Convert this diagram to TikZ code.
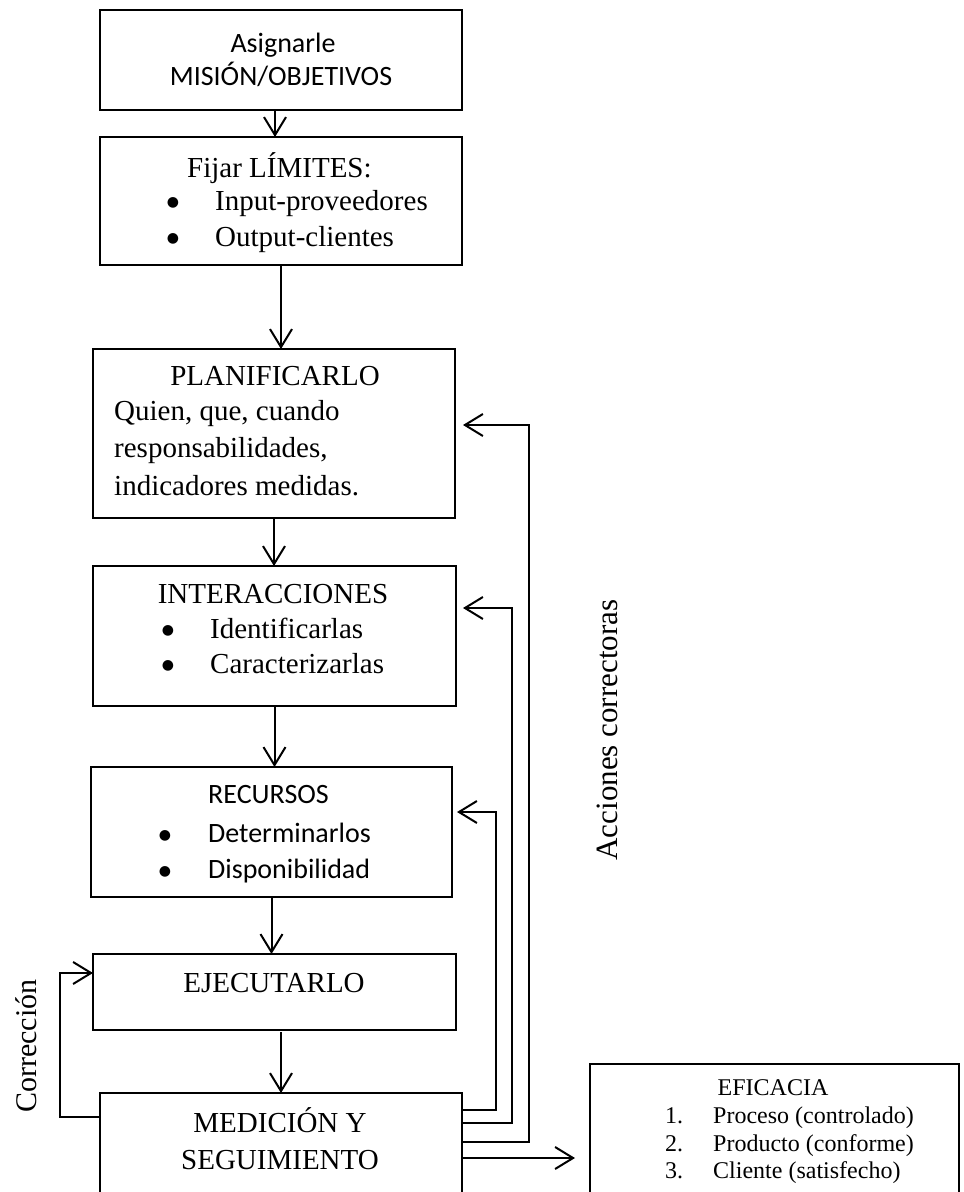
\documentclass[tikz,border=0pt]{standalone}
\usepackage{fontspec}
\setmainfont{Liberation Serif}
\newfontfamily\calibri{Carlito}
\newfontfamily\dejavu{DejaVu Sans}
\usetikzlibrary{arrows.meta}
\begin{document}
\begin{tikzpicture}[x=1pt,y=-1pt,
  box/.style={draw=black, line width=1.3pt, inner sep=0pt, outer sep=0pt, rectangle},
  conn/.style={line width=2pt, -{Straight Barb[length=18pt,width=22pt]}},
  tnr/.style={font=\fontsize{29}{35}\selectfont, inner sep=0pt},
  cal/.style={font=\calibri\fontsize{28}{34}\selectfont, inner sep=0pt},
  small/.style={font=\fontsize{24}{29}\selectfont, inner sep=0pt},
  dot/.style={font=\dejavu\fontsize{14}{14}\selectfont, inner sep=0pt, anchor=base},
  side/.style={rotate=90, inner sep=0pt},
]
\useasboundingbox (0,0) rectangle (964,1192);
\clip (0,0) rectangle (964,1192);

% process boxes
\node[box, minimum width=362pt, minimum height=100pt] (mision)   at (281,60)     {};
\node[box, minimum width=362pt, minimum height=128pt] (limites)  at (281,201)    {};
\node[box, minimum width=362pt, minimum height=169pt] (plan)     at (274,433.5)  {};
\node[box, minimum width=363pt, minimum height=140pt] (inter)    at (274.5,636)  {};
\node[box, minimum width=361pt, minimum height=130pt] (recursos) at (271.5,832)  {};
\node[box, minimum width=363pt, minimum height=76pt]  (ejec)     at (274.5,992)  {};
\node[box, minimum width=362pt, minimum height=107pt] (medicion) at (281,1146.5) {};
\node[box, minimum width=369pt, minimum height=136pt] (eficacia) at (774.5,1132) {};

% box texts
\node[cal, anchor=base] (t1a) at (283,52) {Asignarle};
\node[cal, anchor=base] (t1b) at (281,85) {MISIÓN/OBJETIVOS};

\node[tnr, anchor=base west] (t2a) at (187,177) {Fijar LÍMITES:};
\node[dot] (b2a) at (173,206) {●};
\node[tnr, anchor=base west] (t2b) at (215,210) {Input-proveedores};
\node[dot] (b2b) at (173,242) {●};
\node[tnr, anchor=base west] (t2c) at (215,246) {Output-clientes};

\node[tnr, anchor=base] (t3a) at (275,385) {PLANIFICARLO};
\node[tnr, anchor=base west] (t3b) at (114,420) {Quien, que, cuando};
\node[tnr, anchor=base west] (t3c) at (114,457) {responsabilidades,};
\node[tnr, anchor=base west] (t3d) at (114,495) {indicadores medidas.};

\node[tnr, anchor=base] (t4a) at (273,603) {INTERACCIONES};
\node[dot] (b4a) at (168,634) {●};
\node[tnr, anchor=base west] (t4b) at (210,638) {Identificarlas};
\node[dot] (b4b) at (168,669) {●};
\node[tnr, anchor=base west] (t4c) at (210,673) {Caracterizarlas};

\node[cal, anchor=base west] (t5a) at (208,803) {RECURSOS};
\node[dot] (b5a) at (165,839) {●};
\node[cal, anchor=base west] (t5b) at (208,842) {Determinarlos};
\node[dot] (b5b) at (165,875) {●};
\node[cal, anchor=base west] (t5c) at (208,878) {Disponibilidad};

\node[tnr, anchor=base] (t6a) at (274,992) {EJECUTARLO};

\node[tnr, anchor=base] (t7a) at (280,1132) {MEDICIÓN Y};
\node[tnr, anchor=base] (t7b) at (280,1169) {SEGUIMIENTO};

\node[small, anchor=base] (t8a) at (773,1095) {EFICACIA};
\node[small, anchor=base west] (n8a) at (665,1123) {1.};
\node[small, anchor=base west] (t8b) at (713,1123) {Proceso (controlado)};
\node[small, anchor=base west] (n8b) at (665,1151) {2.};
\node[small, anchor=base west] (t8c) at (713,1151) {Producto (conforme)};
\node[small, anchor=base west] (n8c) at (665,1178) {3.};
\node[small, anchor=base west] (t8d) at (713,1178) {Cliente (satisfecho)};

% side labels
\node[side, font=\fontsize{31}{37}\selectfont] (acc) at (607,730) {Acciones correctoras};
\node[side, font=\fontsize{30}{36}\selectfont] (corr) at (26,1046) {Corrección};

% main flow
\draw[conn] ([xshift=-6pt]mision.south) -- ([xshift=-6pt]limites.north);
\draw[conn] (limites.south) -- (limites.south |- plan.north);
\draw[conn] (plan.south) -- (plan.south |- inter.north);
\draw[conn] (inter.south) -- (inter.south |- recursos.north);
\draw[conn] (recursos.south) -- (recursos.south |- ejec.north);
\draw[conn] ([yshift=-2pt]ejec.south -| medicion.north) -- (medicion.north);

% corrective feedback loops
\coordinate (m1) at ([yshift=-17pt]medicion.north east);
\coordinate (m2) at ([yshift=-30pt]medicion.north east);
\coordinate (m3) at ([yshift=-49pt]medicion.north east);
\coordinate (m4) at ([yshift=-65pt]medicion.north east);
\coordinate (k1) at (496,812);
\coordinate (k2) at (512,608);
\coordinate (k3) at (529,425);
\draw[conn, shorten >=5pt] (m1) -| (k1) -- (recursos.east |- k1);
\draw[conn, shorten >=7pt] (m2) -| (k2) -- (inter.east |- k2);
\draw[conn, shorten >=8pt] (m3) -| (k3) -- (plan.east |- k3);
\draw[conn, shorten >=15pt] (m4) -- (m4 -| eficacia.west);

% correction loop
\coordinate (c1) at ([yshift=-24pt]medicion.north west);
\coordinate (c2) at ([yshift=19pt]ejec.west);
\coordinate (cx) at (60,0);
\draw[conn] (c1) -- (cx |- c1) -- (cx |- c2) -- (c2);
\end{tikzpicture}
\end{document}
